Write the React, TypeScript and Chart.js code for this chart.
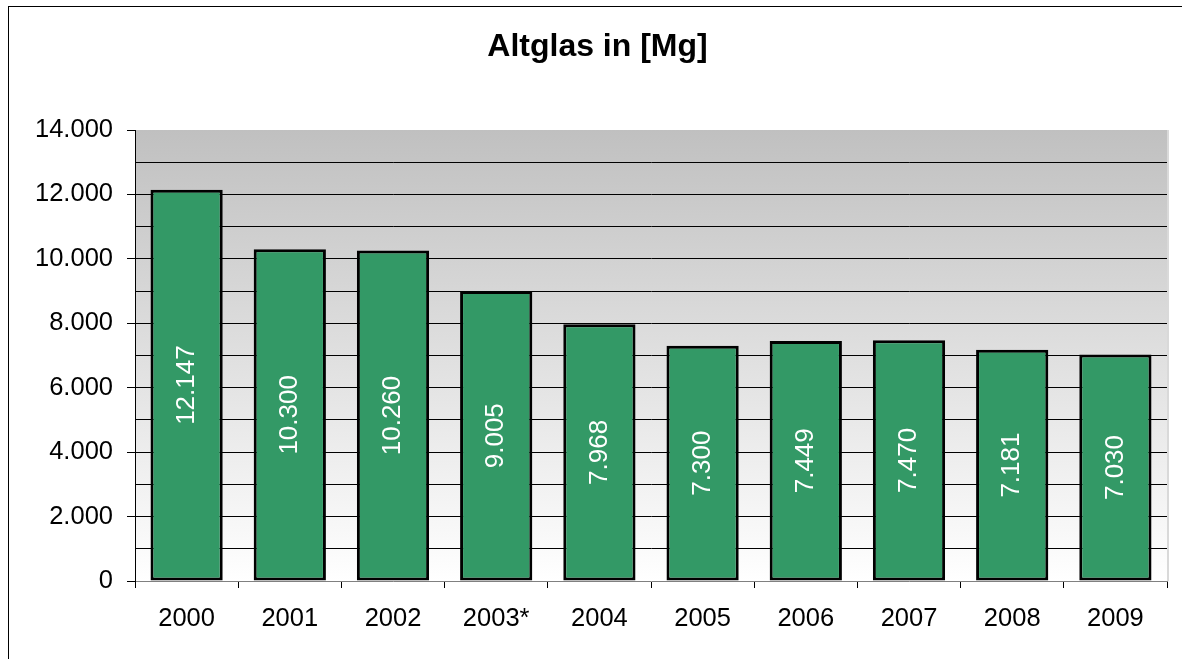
import React, { useEffect, useRef } from 'react';
import { Chart, registerables } from 'chart.js';

Chart.register(...registerables);

const chartTitle = 'Altglas in [Mg]';
const categories = ['2000', '2001', '2002', '2003*', '2004', '2005', '2006', '2007', '2008', '2009'];
const values = [12147, 10300, 10260, 9005, 7968, 7300, 7449, 7470, 7181, 7030];
const yMin = 0;
const yMax = 14000;
const yGridStep = 1000;
const yLabelStep = 2000;

const W = 1179;
const H = 660;

function fmt(n: number): string {
  const s = Math.round(n).toString();
  return s.replace(/\B(?=(\d{3})+(?!\d))/g, '.');
}

const FONT = '"Liberation Sans", Arial, Helvetica, sans-serif';

const backgroundPlugin = {
  id: 'bgFrame',
  beforeDraw(chart: any) {
    const { ctx, chartArea } = chart;
    ctx.save();
    ctx.fillStyle = '#ffffff';
    ctx.fillRect(0, 0, chart.width, chart.height);
    const g = ctx.createLinearGradient(0, chartArea.top, 0, chartArea.bottom);
    g.addColorStop(0, '#c0c0c0');
    g.addColorStop(1, '#ffffff');
    ctx.fillStyle = g;
    ctx.fillRect(chartArea.left, chartArea.top, chartArea.right - chartArea.left, chartArea.bottom - chartArea.top);
    ctx.fillStyle = '#d9d9d9';
    ctx.fillRect(chartArea.right, chartArea.top, 2, chartArea.bottom - chartArea.top);
    ctx.strokeStyle = '#000000';
    ctx.lineWidth = 1;
    ctx.strokeRect(0.5, 0.5, chart.width - 1, chart.height - 1);
    ctx.restore();
  },
};

const barLabelPlugin = {
  id: 'barLabels',
  afterDatasetsDraw(chart: any) {
    const { ctx } = chart;
    const meta = chart.getDatasetMeta(0);
    const data = chart.data.datasets[0].data as number[];
    ctx.save();
    ctx.fillStyle = '#ffffff';
    ctx.font = `26px ${FONT}`;
    ctx.textAlign = 'center';
    ctx.textBaseline = 'middle';
    meta.data.forEach((el: any, i: number) => {
      const p = el.getProps(['x', 'y', 'base'], true);
      const cy = (p.y + p.base) / 2;
      ctx.save();
      ctx.translate(p.x, cy);
      ctx.rotate(-Math.PI / 2);
      ctx.fillText(fmt(data[i]), 0, 0);
      ctx.restore();
    });
    ctx.restore();
  },
};

export default function App() {
  const ref = useRef<HTMLCanvasElement | null>(null);

  useEffect(() => {
    if (!ref.current) return;
    Chart.defaults.font.family = FONT;
    const chart = new Chart(ref.current, {
      type: 'bar',
      data: {
        labels: categories,
        datasets: [
          {
            data: values,
            backgroundColor: '#339966',
            borderColor: '#000000',
            borderWidth: 3,
            borderSkipped: false,
            barPercentage: 0.7,
            categoryPercentage: 1,
          },
        ],
      },
      options: {
        animation: false,
        responsive: false,
        devicePixelRatio: 1,
        layout: { padding: 0 },
        plugins: {
          legend: { display: false },
          tooltip: { enabled: false },
          title: {
            display: true,
            text: chartTitle,
            color: '#000000',
            font: { family: FONT, size: 32, weight: 'bold', lineHeight: 1.25 },
            padding: { top: 21, bottom: 63 },
          },
        },
        scales: {
          x: {
            grid: {
              display: true,
              drawOnChartArea: false,
              drawTicks: true,
              tickLength: 7,
              tickColor: '#000000',
              offset: true,
            },
            border: { display: true, color: '#808080', width: 1 },
            ticks: {
              color: '#000000',
              font: { family: FONT, size: 25.5 },
              padding: 16,
              maxRotation: 0,
              autoSkip: false,
            },
            afterFit: (s: any) => {
              s.height = 85;
            },
          },
          y: {
            min: yMin,
            max: yMax,
            ticks: {
              stepSize: yGridStep,
              autoSkip: false,
              color: '#000000',
              font: { family: FONT, size: 25.5 },
              padding: 14,
              callback: (v: any) => (Number(v) % yLabelStep === 0 ? fmt(Number(v)) : ''),
            },
            grid: {
              color: (c: any) =>
                c.tick && (c.tick.value === yMin || c.tick.value === yMax) ? 'rgba(0,0,0,0)' : '#000000',
              tickColor: (c: any) =>
                c.tick && c.tick.value % yLabelStep === 0 ? '#000000' : 'rgba(0,0,0,0)',
              tickLength: 8,
              lineWidth: 1,
            },
            border: { display: true, color: '#000000', width: 1 },
            afterFit: (s: any) => {
              s.width = 127;
            },
          },
          y2: {
            type: 'linear',
            position: 'right',
            display: true,
            grid: { display: false },
            ticks: { display: false },
            border: { display: false },
            afterFit: (s: any) => {
              s.width = 20;
            },
          },
        },
      } as any,
      plugins: [backgroundPlugin, barLabelPlugin],
    });
    return () => chart.destroy();
  }, []);

  return (
    <div
      style={{
        position: 'fixed',
        left: 0,
        top: 0,
        width: 1182,
        height: 659,
        overflow: 'hidden',
        background: '#ffffff',
      }}
    >
      <canvas
        ref={ref}
        width={W}
        height={H}
        style={{ position: 'absolute', left: 8, top: 6, width: W, height: H }}
      />
    </div>
  );
}
